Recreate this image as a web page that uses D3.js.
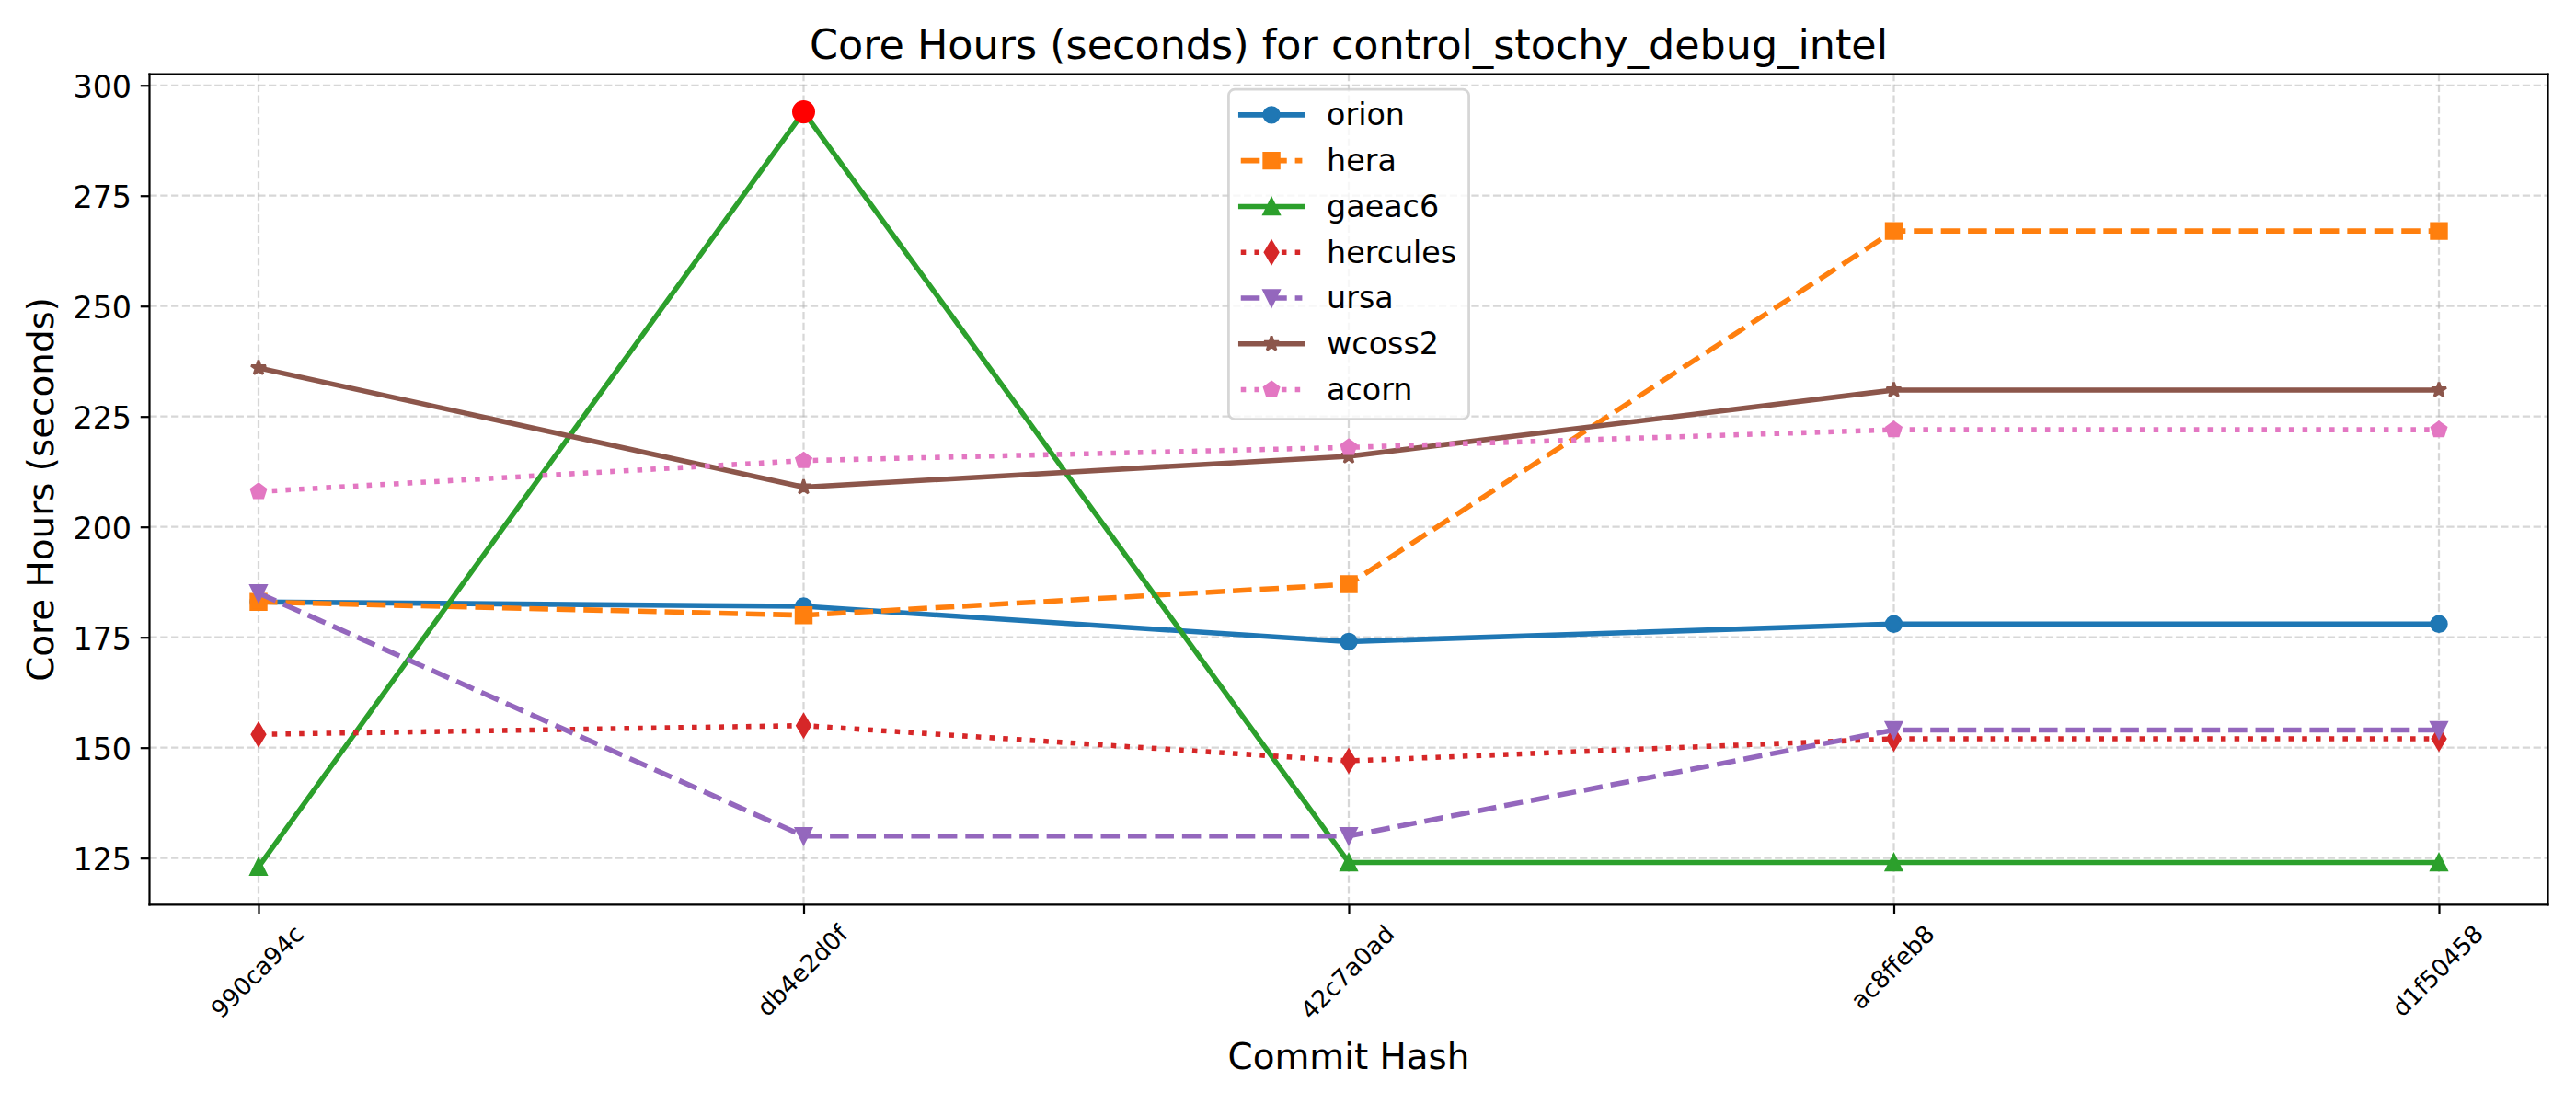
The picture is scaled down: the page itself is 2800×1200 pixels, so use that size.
<!DOCTYPE html>
<html>
<head>
<meta charset="utf-8">
<script src="https://cdn.jsdelivr.net/npm/d3@7"></script>
<style>
  html, body { margin: 0; padding: 0; background: #ffffff; }
  svg { display: block; }
  text { font-family: "DejaVu Sans", sans-serif; fill: #000; }
</style>
</head>
<body>
<svg id="chart" width="2800" height="1200"></svg>
<script>
// ---------------- DATA ----------------
const commits = ["990ca94c", "db4e2d0f", "42c7a0ad", "ac8ffeb8", "d1f50458"];
const seriesNames = ["orion", "hera", "gaeac6", "hercules", "ursa", "wcoss2", "acorn"];
const orion    = [183, 182, 174, 178, 178];
const hera     = [183, 180, 187, 267, 267];
const gaeac6   = [123, 294, 124, 124, 124];
const hercules = [153, 155, 147, 152, 152];
const ursa     = [185, 130, 130, 154, 154];
const wcoss2   = [236, 209, 216, 231, 231];
const acorn    = [208, 215, 218, 222, 222];
const yTickValues = [125, 150, 175, 200, 225, 250, 275, 300];
const titleText = "Core Hours (seconds) for control_stochy_debug_intel";
const xLabelText = "Commit Hash";
const yLabelText = "Core Hours (seconds)";

// ---------------- STYLES ----------------
const PT = 200 / 72;
const styles = {
  orion:    { color: "#1f77b4", ls: "-",  marker: "o" },
  hera:     { color: "#ff7f0e", ls: "--", marker: "s" },
  gaeac6:   { color: "#2ca02c", ls: "-",  marker: "^" },
  hercules: { color: "#d62728", ls: ":",  marker: "d" },
  ursa:     { color: "#9467bd", ls: "--", marker: "v" },
  wcoss2:   { color: "#8c564b", ls: "-",  marker: "*" },
  acorn:    { color: "#e377c2", ls: ":",  marker: "p" }
};
const valuesByName = { orion, hera, gaeac6, hercules, ursa, wcoss2, acorn };
const series = seriesNames.map(n => ({ name: n, values: valuesByName[n], ...styles[n] }));

const LW = 2 * PT;          // line width
const MS = 6 * PT;          // marker size
const MEW = 1 * PT;         // marker edge width
const AXW = 0.8 * PT;       // spine / tick width
const TICKLEN = 3.5 * PT;
const TICKPAD = 3.5 * PT;

const area = { left: 162.5, right: 2769.5, top: 80.5, bottom: 983.3 };

function dashArray(ls, lw) {
  if (ls === "--") return [3.7 * lw, 1.6 * lw].join(",");
  if (ls === ":") return [1 * lw, 1.65 * lw].join(",");
  return null;
}

function markerD(type, size) {
  const h = size / 2;
  const pts = [];
  switch (type) {
    case "o":
      return `M${h},0A${h},${h},0,1,1,${-h},0A${h},${h},0,1,1,${h},0Z`;
    case "s":
      return `M${-h},${-h}L${h},${-h}L${h},${h}L${-h},${h}Z`;
    case "^":
      return `M0,${-h}L${h},${h}L${-h},${h}Z`;
    case "v":
      return `M0,${h}L${h},${-h}L${-h},${-h}Z`;
    case "d": {
      const dy = size * Math.SQRT1_2, dx = 0.6 * size * Math.SQRT1_2;
      return `M0,${-dy}L${dx},0L0,${dy}L${-dx},0Z`;
    }
    case "*":
      for (let i = 0; i < 10; i++) {
        const a = -Math.PI / 2 + i * Math.PI / 5;
        const r = i % 2 === 0 ? h : h * 0.381966;
        pts.push([r * Math.cos(a), r * Math.sin(a)]);
      }
      return "M" + pts.map(p => p.join(",")).join("L") + "Z";
    case "p":
      for (let i = 0; i < 5; i++) {
        const a = -Math.PI / 2 + i * 2 * Math.PI / 5;
        pts.push([h * Math.cos(a), h * Math.sin(a)]);
      }
      return "M" + pts.map(p => p.join(",")).join("L") + "Z";
  }
}
function markerJoin(type) {
  if (type === "o") return "round";
  if (type === "*") return "bevel";
  return "miter";
}

// ---------------- SCALES ----------------
const allVals = series.flatMap(s => s.values);
const [vmin, vmax] = d3.extent(allVals);
const vpad = (vmax - vmin) * 0.05;
const x = d3.scalePoint().domain(commits).range([area.left, area.right]).padding(0.2);
const y = d3.scaleLinear().domain([vmin - vpad, vmax + vpad]).range([area.bottom, area.top]);

const svg = d3.select("#chart");
svg.append("rect").attr("width", 2800).attr("height", 1200).attr("fill", "#ffffff");

svg.append("defs").append("clipPath").attr("id", "plotclip")
  .append("rect")
  .attr("x", area.left).attr("y", area.top)
  .attr("width", area.right - area.left).attr("height", area.bottom - area.top);

// ---------------- GRID ----------------
const grid = svg.append("g").attr("class", "grid");
const gridDash = [3.7 * AXW, 1.6 * AXW].join(",");
grid.selectAll("line.h").data(yTickValues).join("line")
  .attr("class", "h")
  .attr("x1", area.left).attr("x2", area.right)
  .attr("y1", d => y(d)).attr("y2", d => y(d))
  .attr("stroke", "#b0b0b0").attr("stroke-opacity", 0.5)
  .attr("stroke-width", AXW).attr("stroke-dasharray", gridDash);
grid.selectAll("line.v").data(commits).join("line")
  .attr("class", "v")
  .attr("y1", area.bottom).attr("y2", area.top)
  .attr("x1", d => x(d)).attr("x2", d => x(d))
  .attr("stroke", "#b0b0b0").attr("stroke-opacity", 0.5)
  .attr("stroke-width", AXW).attr("stroke-dasharray", gridDash);

// ---------------- LINES ----------------
const plot = svg.append("g").attr("clip-path", "url(#plotclip)");
const line = d3.line().x((d, i) => x(commits[i])).y(d => y(d));

series.forEach(s => {
  const g = plot.append("g").attr("class", "series-" + s.name);
  g.append("path")
    .attr("d", line(s.values))
    .attr("fill", "none")
    .attr("stroke", s.color)
    .attr("stroke-width", LW)
    .attr("stroke-linejoin", "round")
    .attr("stroke-linecap", s.ls === "-" ? "square" : "butt")
    .attr("stroke-dasharray", dashArray(s.ls, LW));
  g.selectAll("path.mk").data(s.values).join("path")
    .attr("class", "mk")
    .attr("d", markerD(s.marker, MS))
    .attr("transform", (d, i) => `translate(${x(commits[i])},${y(d)})`)
    .attr("fill", s.color)
    .attr("stroke", s.color)
    .attr("stroke-width", MEW)
    .attr("stroke-linejoin", markerJoin(s.marker));
});

// highlight the maximum value
let best = null;
series.forEach(s => s.values.forEach((v, i) => {
  if (!best || v > best.v) best = { v, i };
}));
plot.append("path")
  .attr("d", markerD("o", 8 * PT))
  .attr("transform", `translate(${x(commits[best.i])},${y(best.v)})`)
  .attr("fill", "#ff0000").attr("stroke", "#ff0000").attr("stroke-width", MEW);

// ---------------- SPINES ----------------
const sp = svg.append("g").attr("stroke", "#000").attr("stroke-width", AXW).attr("stroke-linecap", "square");
sp.append("line").attr("x1", area.left).attr("x2", area.left).attr("y1", area.top).attr("y2", area.bottom);
sp.append("line").attr("x1", area.right).attr("x2", area.right).attr("y1", area.top).attr("y2", area.bottom);
sp.append("line").attr("x1", area.left).attr("x2", area.right).attr("y1", area.top).attr("y2", area.top);
sp.append("line").attr("x1", area.left).attr("x2", area.right).attr("y1", area.bottom).attr("y2", area.bottom);

// ---------------- Y AXIS ----------------
const yAxis = d3.axisLeft(y).tickValues(yTickValues).tickSize(TICKLEN).tickPadding(TICKPAD).tickFormat(d3.format("d"));
const gy = svg.append("g").attr("transform", `translate(${area.left},0)`).call(yAxis);
gy.select(".domain").remove();
gy.attr("font-family", null).attr("font-size", null);
gy.selectAll(".tick line").attr("stroke", "#000").attr("stroke-width", AXW);
gy.selectAll(".tick text")
  .attr("font-family", "DejaVu Sans").attr("font-size", 12 * PT)
  .attr("fill", "#000").attr("dy", "0.38em");

// ---------------- X AXIS ----------------
const xAxis = d3.axisBottom(x).tickSize(TICKLEN).tickFormat("");
const gx = svg.append("g").attr("transform", `translate(0,${area.bottom})`).call(xAxis);
gx.select(".domain").remove();
gx.selectAll(".tick line").attr("stroke", "#000").attr("stroke-width", AXW);
gx.selectAll(".tick text").remove();

const XFS = 26.4;
const labTop = area.bottom + TICKLEN + TICKPAD;
const xl = svg.append("g");
commits.forEach(c => {
  const g = xl.append("g");
  const t = g.append("text")
    .attr("font-size", XFS)
    .attr("text-anchor", "middle")
    .attr("y", 0.276 * XFS)
    .text(c);
  const w = t.node().getComputedTextLength();
  const hgt = 0.968 * XFS;
  const bb = (w + hgt) / Math.SQRT2;
  g.attr("transform", `translate(${x(c)},${labTop + bb / 2}) rotate(-45)`);
});

// ---------------- LABELS ----------------
const cx = (area.left + area.right) / 2;
svg.append("text").attr("x", cx).attr("y", 64).attr("text-anchor", "middle")
  .attr("font-size", 16 * PT).text(titleText);
svg.append("text").attr("x", cx).attr("y", 1162).attr("text-anchor", "middle")
  .attr("font-size", 14 * PT).text(xLabelText);
svg.append("text")
  .attr("transform", `translate(57.5,${(area.top + area.bottom) / 2}) rotate(-90)`)
  .attr("text-anchor", "middle")
  .attr("font-size", 14 * PT).text(yLabelText);

// ---------------- LEGEND ----------------
const LFS = 12 * PT;
const borderpad = 0.4 * LFS, handlelen = 2 * LFS, handlepad = 0.8 * LFS;
const rowStep = 49.77;
const legTop = area.top + 0.5 * LFS;
const leg = svg.append("g");
const frame = leg.append("rect");
const texts = [];
series.forEach((s, i) => {
  const t = leg.append("text").attr("font-size", LFS).text(s.name);
  texts.push(t);
});
const maxW = d3.max(texts, t => t.node().getComputedTextLength());
const legW = 2 * borderpad + handlelen + handlepad + maxW;
const legH = 2 * borderpad + 7 * 33.1 + 6 * 0.5 * LFS;
const legLeft = cx - legW / 2;
frame.attr("x", legLeft).attr("y", legTop).attr("width", legW).attr("height", legH)
  .attr("rx", 0.2 * LFS).attr("ry", 0.2 * LFS)
  .attr("fill", "#ffffff").attr("fill-opacity", 0.8)
  .attr("stroke", "#cccccc").attr("stroke-opacity", 0.8).attr("stroke-width", 1 * PT);
series.forEach((s, i) => {
  const ry = legTop + 27.7 + i * rowStep;
  const hx0 = legLeft + borderpad, hx1 = hx0 + handlelen;
  leg.append("line")
    .attr("x1", hx0).attr("x2", hx1).attr("y1", ry).attr("y2", ry)
    .attr("stroke", s.color).attr("stroke-width", LW)
    .attr("stroke-linecap", s.ls === "-" ? "square" : "butt")
    .attr("stroke-dasharray", dashArray(s.ls, LW));
  leg.append("path")
    .attr("d", markerD(s.marker, MS))
    .attr("transform", `translate(${(hx0 + hx1) / 2},${ry})`)
    .attr("fill", s.color).attr("stroke", s.color).attr("stroke-width", MEW)
    .attr("stroke-linejoin", markerJoin(s.marker));
  texts[i].attr("x", hx1 + handlepad).attr("y", ry + 11.5);
});
</script>
</body>
</html>
